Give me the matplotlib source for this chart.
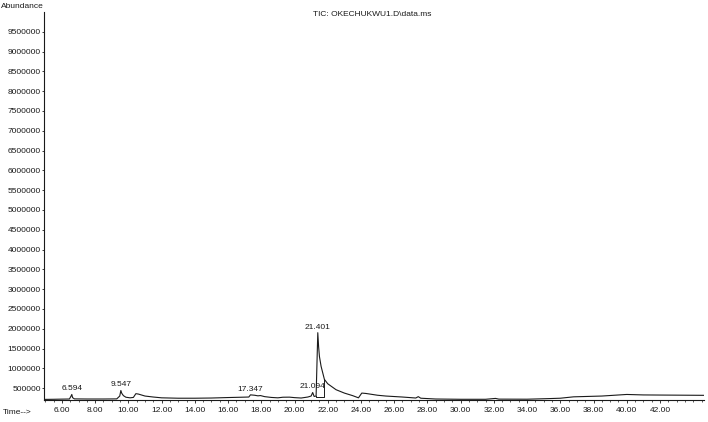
import matplotlib.pyplot as plt
from matplotlib.ticker import MultipleLocator, FixedLocator, FormatStrFormatter
from matplotlib import rcParams

rcParams['font.family'] = ['Liberation Sans', 'DejaVu Sans']

INK = '#1a1a1a'
FS = 6

# TIC trace (time in min, abundance)
rt = [4.92, 5.5, 6.0, 6.45, 6.55, 6.594, 6.64, 6.75, 7.5, 8.5, 9.3, 9.48, 9.547, 9.6,
      9.7, 9.85, 10.1, 10.3, 10.45, 10.6, 11.0, 11.5, 12.0, 13.0, 14.0, 15.0, 16.0,
      16.8, 17.25, 17.347, 17.6, 17.8, 17.95, 18.2, 18.6, 19.0, 19.3, 19.7, 20.0,
      20.4, 20.8, 21.0, 21.094, 21.18, 21.3, 21.401, 21.45, 21.5, 21.6, 21.8, 22.0,
      22.5, 23.0, 23.5, 23.85, 24.05, 24.3, 25.0, 25.5, 26.5, 27.3, 27.45, 27.6,
      28.5, 30.0, 31.5, 32.1, 32.3, 34.0, 35.3, 36.0, 36.8, 38.5, 40.0, 41.0, 42.0,
      44.65]
abundance = [215000, 218000, 222000, 225000, 300000, 340000, 260000, 228000, 225000,
             225000, 228000, 300000, 440000, 370000, 310000, 270000, 255000, 265000,
             360000, 350000, 300000, 275000, 255000, 245000, 245000, 250000, 262000,
             270000, 275000, 330000, 320000, 305000, 312000, 285000, 265000, 255000,
             270000, 272000, 260000, 250000, 275000, 300000, 390000, 290000, 300000,
             1900000, 1550000, 1300000, 1050000, 720000, 610000, 460000, 375000,
             310000, 255000, 375000, 365000, 320000, 300000, 275000, 250000, 285000,
             245000, 225000, 218000, 218000, 240000, 222000, 220000, 235000, 245000,
             280000, 300000, 340000, 328000, 325000, 318000]

# labelled peaks
peak_rt = [6.594, 9.547, 17.347, 21.094, 21.401]
peak_ab = [340000, 440000, 330000, 390000, 1900000]
peak_lbl = ['6.594', '9.547', '17.347', '21.094', '21.401']

# integration marker under the main peak
mark_t = [21.30, 21.30, 21.80, 21.80]
mark_y = [300000, 275000, 275000, 720000]

yticks = list(range(500000, 10000000, 500000))
xticks = list(range(6, 44, 2))

fig = plt.figure(figsize=(7.08, 4.22), dpi=100, facecolor='white')
ax = fig.add_axes([44 / 708, 22 / 422, 660 / 708, 388 / 422])

ax.plot(rt, abundance, color=INK, lw=0.8)
ax.plot(mark_t, mark_y, color=INK, lw=0.7)

for t, a, s in zip(peak_rt, peak_ab, peak_lbl):
    ax.annotate(s, (t, a), xytext=(0, 1.5), textcoords='offset points',
                ha='center', va='bottom', fontsize=FS, color=INK)

ax.set_xlim(4.92, 44.65)
ax.set_ylim(200000, 10000000)

ax.xaxis.set_major_locator(FixedLocator(xticks))
ax.xaxis.set_major_formatter(FormatStrFormatter('%.2f'))
ax.xaxis.set_minor_locator(MultipleLocator(0.5))
ax.yaxis.set_major_locator(FixedLocator(yticks))
ax.yaxis.set_major_formatter(FormatStrFormatter('%d'))

ax.tick_params(axis='x', which='major', labelsize=FS, colors=INK, length=2.5,
               width=0.6, pad=2.5, direction='out')
ax.tick_params(axis='y', which='major', labelsize=FS, colors=INK, length=1.5,
               width=0.6, pad=0.8, direction='out')
ax.tick_params(axis='x', which='minor', length=1.6, width=0.5, colors=INK,
               direction='out')

for side in ('top', 'right'):
    ax.spines[side].set_visible(False)
for side in ('left', 'bottom'):
    ax.spines[side].set_color(INK)
    ax.spines[side].set_linewidth(0.8)

fig.text(1 / 708, 1 - 6 / 422, 'Abundance', fontsize=FS, ha='left', va='center', color=INK)
fig.text(3 / 708, 1 - 412 / 422, 'Time-->', fontsize=FS, ha='left', va='center', color=INK)
fig.text(372 / 708, 1 - 15 / 422, 'TIC: OKECHUKWU1.D\\data.ms', fontsize=FS,
         ha='center', va='center', color=INK)

plt.savefig('out.png', dpi=100, facecolor='white')
plt.close()
